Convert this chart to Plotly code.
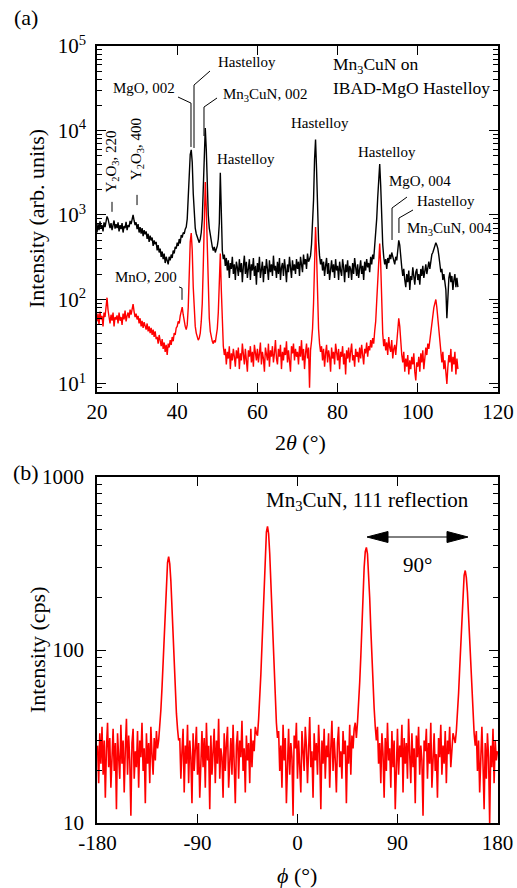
import numpy as np
import plotly.graph_objects as go

# ---------------- (a) 2theta-omega scan (0.25 degree steps) ----------------
tth_start, tth_step = 20.0, 0.25
black_counts = [
    620, 780, 660, 840, 700, 760, 640, 820, 720, 880, 960, 900, 780, 700, 800, 660, 760, 860, 690, 780,
    700, 820, 640, 760, 680, 800, 620, 740, 700, 830, 660, 760, 720, 850, 780, 880, 1000, 860, 760, 820,
    680, 780, 620, 720, 600, 700, 560, 660, 590, 640, 520, 600, 480, 570, 500, 540, 430, 500, 450, 480,
    380, 440, 360, 400, 320, 370, 300, 350, 270, 320, 290, 260, 320, 290, 340, 310, 380, 350, 420, 400,
    470, 430, 520, 460, 580, 540, 620, 600, 680, 720, 900, 1500, 3200, 5200, 5900, 4200, 1800, 1000, 700, 600,
    540, 500, 470, 520, 620, 900, 1800, 4500, 10700, 6000, 2000, 1000, 700, 560, 480, 420, 380, 420, 360, 390,
    430, 520, 800, 3150, 900, 380, 300, 340, 250, 310, 220, 290, 180, 270, 230, 320, 200, 260, 170, 280,
    240, 190, 300, 210, 270, 160, 250, 330, 200, 280, 180, 240, 300, 170, 260, 220, 310, 190, 250, 150,
    270, 210, 320, 180, 240, 280, 160, 250, 200, 300, 230, 170, 290, 210, 260, 190, 330, 220, 250, 180,
    280, 200, 310, 170, 240, 270, 190, 300, 230, 160, 260, 210, 320, 240, 180, 290, 220, 260, 200, 300,
    230, 280, 190, 320, 250, 210, 340, 260, 300, 230, 350, 280, 300, 330, 450, 700, 1500, 4500, 7800, 3500,
    1100, 500, 330, 260, 300, 220, 280, 190, 250, 310, 200, 270, 170, 240, 290, 210, 260, 180, 300, 220,
    250, 170, 280, 220, 190, 300, 240, 160, 260, 210, 290, 180, 250, 230, 170, 270, 200, 310, 240, 190,
    260, 180, 230, 290, 200, 250, 170, 280, 220, 300, 240, 270, 210, 320, 260, 340, 300, 420, 550, 900,
    1600, 3000, 4000, 2200, 900, 450, 320, 260, 300, 230, 310, 270, 340, 300, 360, 330, 300, 260, 320, 290,
    380, 500, 440, 300, 240, 190, 230, 170, 140, 200, 160, 220, 130, 190, 170, 240, 180, 150, 210, 230,
    170, 200, 150, 230, 190, 250, 180, 220, 260, 200, 240, 280, 230, 300, 340, 360, 400, 430, 470, 440,
    400, 330, 260, 210, 230, 170, 200, 150, 130, 60, 110, 180, 210, 160, 190, 130, 170, 200, 140, 180,
    140,
]
red_counts = [
    55, 68, 50, 72, 58, 64, 48, 70, 62, 80, 105, 75, 60, 52, 66, 56, 70, 48, 62, 58,
    65, 52, 70, 56, 62, 50, 68, 58, 74, 55, 64, 70, 60, 76, 66, 80, 88, 72, 62, 68,
    58, 64, 52, 60, 48, 56, 46, 54, 50, 44, 52, 42, 48, 40, 46, 38, 44, 36, 42, 34,
    36, 30, 38, 32, 28, 34, 26, 31, 24, 29, 22, 30, 27, 33, 29, 36, 32, 40, 38, 46,
    48, 55, 52, 64, 70, 81, 66, 55, 48, 44, 50, 80, 250, 480, 610, 380, 140, 70, 48, 40,
    36, 33, 35, 40, 55, 90, 250, 900, 2450, 1200, 320, 110, 60, 42, 35, 32, 30, 33, 31, 36,
    45, 70, 150, 350, 130, 45, 28, 22, 26, 17, 24, 20, 28, 15, 23, 19, 26, 21, 16, 25,
    20, 27, 15, 23, 19, 30, 22, 17, 26, 20, 14, 25, 21, 28, 18, 24, 16, 29, 21, 19,
    26, 18, 23, 31, 17, 24, 20, 14, 27, 22, 19, 30, 16, 25, 21, 28, 18, 23, 33, 20,
    17, 26, 21, 29, 15, 24, 19, 27, 22, 32, 18, 25, 20, 14, 28, 23, 30, 19, 26, 21,
    24, 17, 28, 21, 33, 19, 26, 15, 23, 30, 20, 27, 9, 25, 32, 45, 90, 300, 720, 350,
    110, 45, 30, 24, 28, 19, 26, 16, 23, 29, 18, 25, 21, 14, 27, 20, 24, 17, 30, 22,
    19, 26, 15, 24, 21, 28, 17, 23, 13, 25, 20, 27, 18, 24, 30, 19, 22, 16, 26, 21,
    24, 18, 27, 20, 29, 22, 17, 26, 23, 31, 21, 28, 25, 33, 27, 35, 30, 42, 55, 95,
    180, 380, 460, 260, 90, 40, 28, 34, 25, 31, 22, 36, 27, 24, 33, 20, 26, 29, 22, 30,
    40, 60, 48, 30, 22, 18, 24, 14, 20, 16, 22, 13, 19, 15, 21, 17, 23, 14, 11, 18,
    16, 21, 14, 23, 18, 25, 15, 20, 27, 22, 30, 26, 33, 38, 48, 65, 80, 90, 100, 80,
    60, 42, 30, 22, 18, 24, 15, 19, 14, 10, 16, 22, 18, 26, 14, 21, 17, 24, 13, 20,
    15,
]
tth = [tth_start + tth_step * i for i in range(len(black_counts))]

# ---------------- (b) phi scan (1 degree steps) ----------------
phi_start, phi_step = -180.0, 1.0
phi_bg0 = [28, 17, 33, 22, 36, 19, 30, 14, 27, 38, 21, 31, 16, 25, 35, 20, 29, 12, 33, 24,
           18, 37, 22, 30, 15, 27, 40, 19, 32, 23, 11, 29, 35, 18, 26, 21, 34, 16, 30, 24,
           38, 20, 27, 13, 33, 22, 29, 17, 36, 25, 19, 31, 23, 34, 27]
phi_pk1 = [30, 36, 45, 60, 85, 125, 185, 260, 320, 347, 315, 250, 175, 118, 80, 57, 43, 35, 30]
phi_bg1 = [31, 18, 26, 35, 15, 28, 22, 37, 17, 30, 24, 13, 33, 20, 27, 36, 19, 29, 14, 25,
           34, 21, 31, 16, 38, 23, 28, 12, 32, 19, 26, 35, 17, 30, 22, 40, 18, 27, 24, 14,
           33, 20, 29, 36, 16, 25, 31, 19, 37, 22, 13, 28, 34, 18, 30, 24, 39, 20, 27, 15,
           32, 23, 29, 17, 35, 21, 30, 26, 36, 33]
phi_pk2 = [32, 40, 52, 72, 105, 160, 250, 370, 480, 518, 470, 360, 240, 150, 98, 68, 50, 38, 31]
phi_bg2 = [34, 20, 28, 16, 37, 23, 31, 13, 26, 35, 19, 29, 24, 11, 32, 27, 38, 18, 30, 22,
           15, 34, 25, 20, 36, 28, 17, 31, 41, 21, 26, 14, 33, 23, 29, 19, 37, 25, 12, 30,
           22, 35, 18, 28, 24, 33, 16, 27, 39, 20, 31, 23, 15, 29, 36, 21, 26, 18, 34, 25,
           30, 13, 28, 22, 37, 19, 32, 27, 35, 38]
phi_pk3 = [31, 38, 48, 65, 92, 140, 210, 300, 370, 392, 360, 285, 200, 132, 88, 62, 46, 36, 30]
phi_bg3 = [36, 22, 29, 17, 33, 25, 14, 31, 20, 38, 23, 27, 16, 34, 21, 30, 12, 26, 35, 19,
           28, 24, 37, 15, 31, 22, 29, 18, 40, 25, 17, 33, 21, 27, 13, 32, 24, 36, 19, 28,
           23, 11, 30, 26, 35, 18, 29, 22, 38, 16, 27, 33, 20, 25, 14, 31, 24, 37, 19, 28,
           22, 34, 17, 30, 25, 36, 21, 29, 33, 31]
phi_pk4 = [29, 34, 42, 56, 78, 112, 165, 225, 270, 288, 262, 215, 155, 105, 72, 52, 40, 33, 28]
phi_bg4 = [34, 20, 30, 15, 27, 36, 22, 12, 29, 18, 33, 24, 10, 28, 21, 35, 17, 30, 23, 26]
phi_counts = (phi_bg0 + phi_pk1 + phi_bg1 + phi_pk2 + phi_bg2 + phi_pk3
              + phi_bg3 + phi_pk4 + phi_bg4)
phi = [phi_start + phi_step * i for i in range(len(phi_counts))]

# tick labels
tth_ticks = [20, 40, 60, 80, 100, 120]
top_yticks = [1e1, 1e2, 1e3, 1e4, 1e5]
top_yticktext = ["10<sup>1</sup>", "10<sup>2</sup>", "10<sup>3</sup>", "10<sup>4</sup>", "10<sup>5</sup>"]
phi_ticks = [-180, -90, 0, 90, 180]
phi_ticktext = ["-180", "-90", "0", "90", "180"]
bot_yticks = [10, 100, 1000]
bot_yticktext = ["10", "100", "1000"]

FONT = "Liberation Serif"
fig = go.Figure()

fig.add_trace(go.Scatter(x=tth, y=black_counts, mode="lines",
                         line=dict(color="#000000", width=1.4),
                         xaxis="x", yaxis="y", hoverinfo="skip"))
fig.add_trace(go.Scatter(x=tth, y=red_counts, mode="lines",
                         line=dict(color="#ff0000", width=1.4),
                         xaxis="x", yaxis="y", hoverinfo="skip"))
fig.add_trace(go.Scatter(x=phi, y=phi_counts, mode="lines",
                         line=dict(color="#ff0000", width=1.6),
                         xaxis="x2", yaxis="y2", hoverinfo="skip"))

# leader lines for peak labels (data coordinates)
leaders = [
    ([44.19, 44.19, 48.18], [6210, 34500, 50600]),
    ([43.44, 43.44, 40.2], [6380, 21100, 24900]),
    ([46.68, 46.68, 49.93], [8600, 18950, 24250]),
    ([93.57, 93.57, 97.3], [506, 1210, 1630]),
    ([95.3, 95.3, 98.8], [612, 920, 1146]),
    ([23.74, 23.74], [1090, 1430]),
    ([29.98, 29.98], [1310, 1730]),
    ([40.45, 41.2, 41.2], [141, 136, 99]),
]
for lx, ly in leaders:
    fig.add_trace(go.Scatter(x=lx, y=ly, mode="lines",
                             line=dict(color="#000000", width=1),
                             xaxis="x", yaxis="y", hoverinfo="skip"))

W, H = 517, 888
L, R, T, B = 97, 19, 46, 65
PW, PH = W - L - R, H - T - B


def paper(px, py):
    """window pixel -> paper coordinates"""
    return (px - L) / PW, (H - B - py) / PH


annotations = []


def add_text(text, x, y, size, xref="x", yref="y", angle=0, xanchor="center"):
    annotations.append(dict(text=text, x=x, y=y, xref=xref, yref=yref,
                            showarrow=False, textangle=angle, xanchor=xanchor,
                            yanchor="middle",
                            font=dict(family=FONT, size=size, color="#000000")))


# (a) labels
add_text("Hastelloy", 57.4, 4.81, 15)
add_text("MgO, 002", 31.7, 4.50, 15)
add_text("Mn<sub>3</sub>CuN, 002", 61.9, 4.42, 15)
add_text("Hastelloy", 57.2, 3.66, 15)
add_text("Hastelloy", 75.6, 4.09, 15)
add_text("Hastelloy", 92.3, 3.75, 15)
add_text("MgO, 004", 100.5, 3.40, 15)
add_text("Hastelloy", 107.0, 3.17, 15)
add_text("Mn<sub>3</sub>CuN, 004", 108.0, 2.83, 15)
add_text("Y<sub>2</sub>O<sub>3</sub>, 220", 23.7, 3.63, 15, angle=-90)
add_text("Y<sub>2</sub>O<sub>3</sub>, 400", 30.0, 3.78, 15, angle=-90)
add_text("MnO, 200", 32.2, 2.27, 15)
add_text("Mn<sub>3</sub>CuN on", 78.4, 4.775, 17.5, xanchor="left")
add_text("IBAD-MgO Hastelloy", 78.4, 4.50, 17.5, xanchor="left")

# (b) labels
add_text("Mn<sub>3</sub>CuN, 111 reflection", 63, 2.86, 21, xref="x2", yref="y2")
add_text("90°", 107.6, 2.49, 21, xref="x2", yref="y2")

# panel letters and axis titles
px_, py_ = paper(12, 18)
add_text("(a)", px_, py_, 22, xref="paper", yref="paper", xanchor="left")
px_, py_ = paper(11, 472)
add_text("(b)", px_, py_, 22, xref="paper", yref="paper", xanchor="left")
px_, py_ = paper(37, 219)
add_text("Intensity (arb. units)", px_, py_, 22, xref="paper", yref="paper", angle=-90)
px_, py_ = paper(37, 650)
add_text("Intensity (cps)", px_, py_, 22, xref="paper", yref="paper", angle=-90)
px_, py_ = paper(300, 442)
add_text("2<i>θ</i> (°)", px_, py_, 22, xref="paper", yref="paper")
px_, py_ = paper(297, 875)
add_text("<i>ϕ</i> (°)", px_, py_, 22, xref="paper", yref="paper")

# double arrow (90°) in panel (b)
shapes = []
ay = 537
x0, y0 = paper(386, ay)
x1, y1 = paper(449, ay)
shapes.append(dict(type="line", xref="paper", yref="paper", x0=x0, y0=y0, x1=x1, y1=y1,
                   line=dict(color="#000000", width=1)))


def tri(tip, base, half):
    a = paper(tip, ay)
    b = paper(base, ay - half)
    c = paper(base, ay + half)
    return f"M{a[0]},{a[1]} L{b[0]},{b[1]} L{c[0]},{c[1]} Z"


for tip, base in [(367, 388), (468, 447)]:
    shapes.append(dict(type="path", xref="paper", yref="paper", path=tri(tip, base, 5.5),
                       fillcolor="#000000", line=dict(color="#000000", width=1)))

axis_common = dict(showline=True, linewidth=1.5, linecolor="#000000", mirror="allticks",
                   ticks="inside", ticklen=9, tickwidth=1.2, tickcolor="#000000",
                   showgrid=False, zeroline=False, automargin=False,
                   tickfont=dict(family=FONT, size=21, color="#000000"))

top_minor = [m * 10 ** e for e in range(0, 5) for m in range(2, 10)]
bot_minor = [m * 10 ** e for e in range(1, 3) for m in range(2, 10)]

fig.update_layout(
    template="none",
    width=W, height=H, autosize=False,
    margin=dict(l=L, r=R, t=T, b=B, pad=0),
    paper_bgcolor="white", plot_bgcolor="white",
    showlegend=False,
    xaxis=dict(domain=[0, 1], anchor="y", range=[20, 120], tickmode="array",
               tickvals=tth_ticks, ticklabelstandoff=0, **axis_common),
    yaxis=dict(domain=[(H - B - 392) / PH, 1], anchor="x", type="log",
               range=[0.905, 5],
               tickmode="array", tickvals=top_yticks, ticktext=top_yticktext,
               ticklabelstandoff=5,
               minor=dict(ticks="inside", ticklen=5, tickwidth=1, tickcolor="#000000",
                          tickmode="array", tickvals=top_minor, showgrid=False),
               **axis_common),
    xaxis2=dict(domain=[0, 1], anchor="y2", range=[-180.5, 180.5], tickmode="array",
                tickvals=phi_ticks, ticktext=phi_ticktext, ticklabelstandoff=0,
                **axis_common),
    yaxis2=dict(domain=[0, (H - B - 477) / PH], anchor="x2", type="log", range=[1, 3],
                tickmode="array", tickvals=bot_yticks, ticktext=bot_yticktext,
                ticklabelstandoff=7,
                minor=dict(ticks="inside", ticklen=5, tickwidth=1, tickcolor="#000000",
                           tickmode="array", tickvals=bot_minor, showgrid=False),
                **axis_common),
    annotations=annotations,
    shapes=shapes,
)

fig.write_html(
    "out.html",
    config={"displayModeBar": False},
    post_script="document.body.style.margin='0';document.body.style.padding='0';"
                "document.documentElement.style.overflow='hidden';",
)
